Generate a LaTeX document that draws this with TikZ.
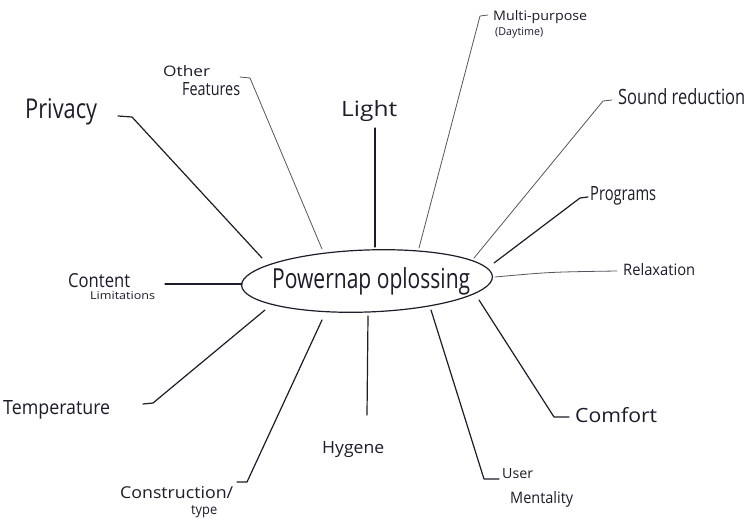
\documentclass[tikz,border=0pt]{standalone}
\usepackage{fontspec}
\setmainfont{Open Sans}
\usepackage{graphicx}
\usetikzlibrary{shapes.geometric}
\definecolor{ink}{RGB}{28,28,42}
\newcommand{\hw}[3]{\resizebox{#1pt}{#2pt}{#3}}
\begin{document}
\begin{tikzpicture}[x=1pt,y=-1pt,
  lbl/.style={anchor=base west, inner sep=0pt, text=ink},
  conn/.style={draw=ink, line width=1.2pt, line cap=round, line join=round},
  thinconn/.style={conn, line width=0.8pt, draw=ink!75}]
\useasboundingbox (0,0) rectangle (744,525);
\fill[white] (0,0) rectangle (744,525);
% centre
\node[draw=ink, line width=1.2pt, ellipse, minimum width=251pt, minimum height=62pt, inner sep=0pt, rotate=2] (c) at (367,281) {};
\node[lbl] (title) at (272,288) {\hw{198}{21}{Powernap oplossing}};
% labels
\node[lbl] (priv) at (25,118) {\hw{72}{20}{Privacy}};
\node[lbl] (oth1) at (163,76) {\hw{47}{11}{Other}};
\node[lbl] (oth2) at (182,95) {\hw{58}{13}{Features}};
\node[lbl] (light) at (341,116) {\hw{56}{16}{Light}};
\node[lbl] (multi1) at (493,20) {\hw{94}{10}{Multi-purpose}};
\node[lbl] (multi2) at (495,35) {\hw{48}{8}{(Daytime)}};
\node[lbl] (sound) at (618,104) {\hw{127}{16}{Sound reduction}};
\node[lbl] (prog) at (590,200) {\hw{66}{14}{Programs}};
\node[lbl] (relax) at (623,275) {\hw{72}{12}{Relaxation}};
\node[lbl] (comf) at (575,422) {\hw{82}{15}{Comfort}};
\node[lbl] (user1) at (502,478) {\hw{31}{10}{User}};
\node[lbl] (user2) at (510,503) {\hw{63}{12}{Mentality}};
\node[lbl] (hyg) at (322,453) {\hw{62}{12}{Hygene}};
\node[lbl] (cons1) at (120,498) {\hw{113}{12}{Construction/}};
\node[lbl] (cons2) at (191,514) {\hw{26}{9}{type}};
\node[lbl] (temp) at (3,414) {\hw{107}{14}{Temperature}};
\node[lbl] (cont1) at (68,287) {\hw{62}{14}{Content}};
\node[lbl] (cont2) at (90,299) {\hw{65}{8}{Limitations}};
% connector points
\coordinate (ePriv) at (262,258); \coordinate (kPriv) at (132,117); \coordinate (hPriv) at (118,116);
\coordinate (eOth) at (322,249);  \coordinate (kOth) at (250,78);   \coordinate (hOth) at (240,77);
\coordinate (eLight) at (375,247); \coordinate (kLight) at (375,128);
\coordinate (eMulti) at (419,248); \coordinate (kMulti) at (480,16); \coordinate (hMulti) at (488,15);
\coordinate (eSound) at (474,258); \coordinate (kSound) at (603,101); \coordinate (hSound) at (612,100);
\coordinate (eProg) at (494,263); \coordinate (kProg) at (580,198); \coordinate (hProg) at (588,197);
\coordinate (eRelax) at (495,277); \coordinate (kRelax) at (617,271);
\coordinate (eComf) at (479,300); \coordinate (kComf) at (554,417); \coordinate (hComf) at (569,417);
\coordinate (eUser) at (431,310); \coordinate (kUser) at (484,479); \coordinate (hUser) at (499,479);
\coordinate (eHyg) at (368,316); \coordinate (kHyg) at (367,415);
\coordinate (eCons) at (322,320); \coordinate (kCons) at (247,482); \coordinate (hCons) at (237,482);
\coordinate (eTemp) at (265,310); \coordinate (kTemp) at (153,403); \coordinate (hTemp) at (143,404);
\coordinate (eCont) at (242,284); \coordinate (kCont) at (165,284);
% connectors
\draw[conn] (ePriv) -- (kPriv) -- (hPriv);
\draw[thinconn] (eOth) -- (kOth) -- (hOth);
\draw[conn] (eLight) -- (kLight);
\draw[thinconn] (eMulti) -- (kMulti) -- (hMulti);
\draw[thinconn] (eSound) -- (kSound) -- (hSound);
\draw[conn] (eProg) -- (kProg) -- (hProg);
\draw[thinconn] (eRelax) .. controls (550,272) .. (kRelax);
\draw[conn] (eComf) -- (kComf) -- (hComf);
\draw[conn] (eUser) -- (kUser) -- (hUser);
\draw[conn] (eHyg) -- (kHyg);
\draw[conn] (eCons) -- (kCons) -- (hCons);
\draw[conn] (eTemp) -- (kTemp) -- (hTemp);
\draw[conn] (eCont) -- (kCont);
\end{tikzpicture}
\end{document}
